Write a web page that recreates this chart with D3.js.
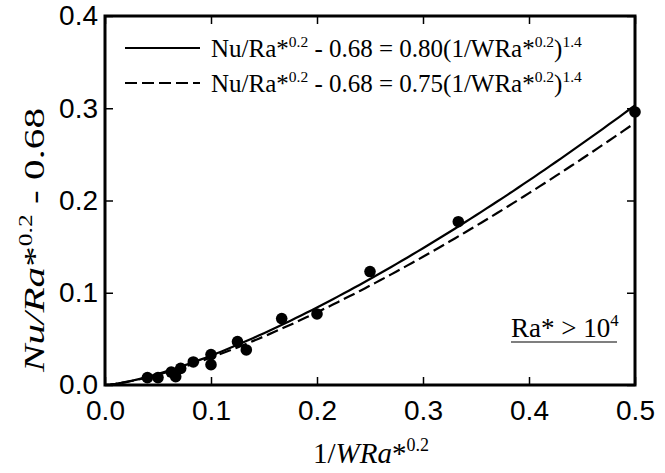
<!DOCTYPE html>
<html>
<head>
<meta charset="utf-8">
<script src="https://cdn.jsdelivr.net/npm/d3@7/dist/d3.min.js"></script>
<style>
  body { margin: 0; background: #fff; }
  text { fill: #000; }
</style>
</head>
<body>
<svg id="chart" width="665" height="473"></svg>
<script>
// tick values
var xTicks = [0, 0.1, 0.2, 0.3, 0.4, 0.5];
var yTicks = [0, 0.1, 0.2, 0.3, 0.4];

// measured points, 1/WRa*^0.2 vs Nu/Ra*^0.2 - 0.68
var pointX = [0.040, 0.050, 0.0625, 0.0667, 0.0714, 0.0833, 0.100, 0.100, 0.125, 0.1333, 0.1667, 0.200, 0.250, 0.3333, 0.500];
var pointY = [0.008, 0.008, 0.014, 0.009, 0.018, 0.025, 0.033, 0.022, 0.047, 0.038, 0.072, 0.077, 0.123, 0.177, 0.296];

// fit lines: y = c * x^1.4
var fitCoef = ['0.80', '0.75'];
var fitExp = 1.4;

(function () {
  'use strict';

  var svg = d3.select('#chart')
    , left = 105, right = 635, top = 16, bottom = 385
    , serif = '"Liberation Serif", "Times New Roman", serif'
    , sans = '"Liberation Sans", Arial, sans-serif'
    ;

  var x = d3.scaleLinear().domain([0, 0.5]).range([left, right]);
  var y = d3.scaleLinear().domain([0, 0.4]).range([bottom, top]);

  // ticks, all pointing inward
  function tickStyle(g) {
    g.select('.domain').remove();
    g.selectAll('.tick line').attr('stroke', '#000').attr('stroke-width', 1.5);
  }

  svg.append('g')
      .attr('transform', 'translate(0,' + bottom + ')')
      .call(d3.axisBottom(x).tickValues(xTicks).tickSize(-8).tickPadding(15).tickFormat(d3.format('.1f')))
      .call(tickStyle)
      .selectAll('text').attr('font-family', sans).attr('font-size', 28);

  svg.append('g')
      .attr('transform', 'translate(0,' + top + ')')
      .call(d3.axisTop(x).tickValues(xTicks).tickSize(-8).tickFormat(''))
      .call(tickStyle);

  svg.append('g')
      .attr('transform', 'translate(' + left + ',0)')
      .call(d3.axisLeft(y).tickValues(yTicks).tickSize(-8).tickPadding(7).tickFormat(d3.format('.1f')))
      .call(tickStyle)
      .selectAll('text').attr('font-family', sans).attr('font-size', 28);

  svg.append('g')
      .attr('transform', 'translate(' + right + ',0)')
      .call(d3.axisRight(y).tickValues(yTicks).tickSize(-8).tickFormat(''))
      .call(tickStyle);

  // frame
  svg.append('rect')
      .attr('x', left).attr('y', top)
      .attr('width', right - left).attr('height', bottom - top)
      .attr('fill', 'none').attr('stroke', '#000').attr('stroke-width', 3);

  // fit curves
  var xs = d3.range(0, 0.5001, 0.005);
  var line = d3.line()
      .x(function (d) { return x(d[0]); })
      .y(function (d) { return y(d[1]); });

  fitCoef.forEach(function (c, i) {
    svg.append('path')
        .datum(xs.map(function (v) { return [v, +c * Math.pow(v, fitExp)]; }))
        .attr('d', line)
        .attr('fill', 'none')
        .attr('stroke', '#000')
        .attr('stroke-width', 2.2)
        .attr('stroke-dasharray', i ? '12,5' : null);
  });

  // points
  svg.append('g').selectAll('circle')
      .data(pointX)
    .enter().append('circle')
      .attr('cx', function (d) { return x(d); })
      .attr('cy', function (d, i) { return y(pointY[i]); })
      .attr('r', 5.8)
      .attr('fill', '#000');

  // helper for text with superscripts: parts = [[text, sup, italic], ...]
  function rich(sel, parts, size) {
    var cur = 0;
    parts.forEach(function (p) {
      var shift = p[1] ? -size * 0.42 : 0;
      sel.append('tspan')
          .attr('dy', shift - cur)
          .attr('font-size', p[1] ? size * 0.62 : size)
          .attr('font-style', p[2] ? 'italic' : 'normal')
          .text(p[0]);
      cur = shift;
    });
  }

  // legend
  fitCoef.forEach(function (c, i) {
    var ly = 48 + i * 35;
    svg.append('line')
        .attr('x1', 125).attr('x2', 200)
        .attr('y1', ly).attr('y2', ly)
        .attr('stroke', '#000').attr('stroke-width', 2.2)
        .attr('stroke-dasharray', i ? '12,5' : null);
    var t = svg.append('text')
        .attr('x', 211).attr('y', ly + 9)
        .attr('font-family', serif);
    rich(t, [['Nu/Ra*'], ['0.2', true], [' - 0.68 = ' + c + '(1/WRa*'], ['0.2', true], [')'], ['1.4', true]], 25);
  });

  // annotation
  var note = svg.append('text')
      .attr('x', 511).attr('y', 337)
      .attr('font-family', serif);
  rich(note, [['Ra* > 10'], ['4', true]], 27);
  svg.append('line')
      .attr('x1', 511).attr('x2', 617)
      .attr('y1', 342).attr('y2', 342)
      .attr('stroke', '#000').attr('stroke-width', 1.2);

  // axis titles
  var xt = svg.append('text')
      .attr('x', 371).attr('y', 463)
      .attr('text-anchor', 'middle')
      .attr('font-family', serif);
  rich(xt, [['1/'], ['WRa', false, true], ['*'], ['0.2', true]], 29);

  var yt = svg.append('text')
      .attr('transform', 'translate(44,240) rotate(-90) scale(1.42,1)')
      .attr('text-anchor', 'middle')
      .attr('font-family', serif);
  rich(yt, [['Nu/Ra', false, true], ['*'], ['0.2', true], [' - 0.68']], 29);
})();
</script>
</body>
</html>
